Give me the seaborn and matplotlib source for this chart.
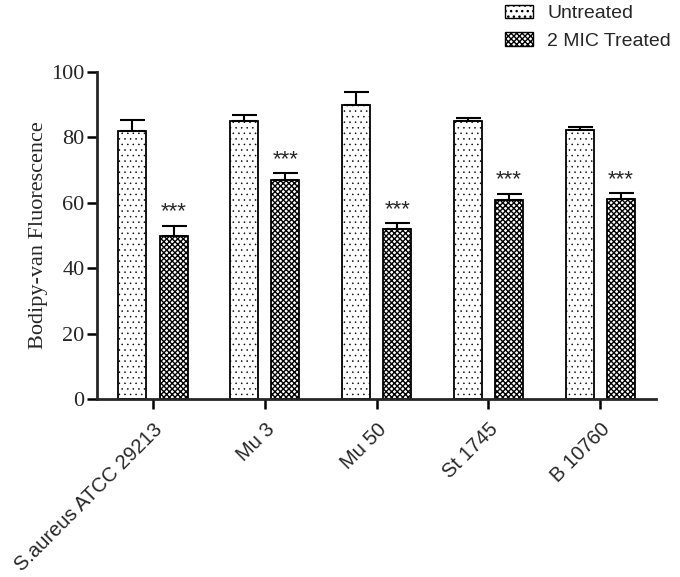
import pandas as pd
import matplotlib
matplotlib.use("Agg")
import matplotlib.pyplot as plt
from matplotlib.patches import Patch
import seaborn as sns

# Data
strains = ["S.aureus ATCC 29213", "Mu 3", "Mu 50", "St 1745", "B 10760"]
groups = ["Untreated", "2 MIC Treated"]
untreated = [82, 85, 90, 85, 82.3]
untreated_err = [3.3, 1.8, 4.0, 1.0, 1.0]
treated = [50, 67, 52, 61, 61.2]
treated_err = [3.0, 2.0, 1.8, 1.8, 1.8]
stars = ["***", "***", "***", "***", "***"]

df = pd.DataFrame({
    "Strain": strains * 2,
    "Group": [groups[0]] * len(strains) + [groups[1]] * len(strains),
    "Value": untreated + treated,
})

sns.set_style("ticks")
plt.rcParams["font.family"] = ["Liberation Sans", "DejaVu Sans"]
plt.rcParams["hatch.linewidth"] = 1.0

fig = plt.figure(figsize=(6.8, 5.77), dpi=100)
ax = fig.add_axes([0.1426, 0.3085, 0.8224, 0.5667])

sns.barplot(data=df, x="Strain", y="Value", hue="Group", hue_order=groups,
            order=strains, palette=["white", "white"], width=0.74, gap=0.32,
            errorbar=None, edgecolor="black", linewidth=1.3, ax=ax)

hatches = {groups[0]: "...", groups[1]: "xxxxxx"}
hatch_lw = {groups[0]: 0.35, groups[1]: 1.0}
for cont, g in zip(ax.containers, groups):
    for bar in cont:
        bar.set_hatch(hatches[g])
        if hasattr(bar, "set_hatch_linewidth"):
            bar.set_hatch_linewidth(hatch_lw[g])

# upper-only error bars with caps
errs = [untreated_err, treated_err]
for cont, e in zip(ax.containers, errs):
    xs = [b.get_x() + b.get_width() / 2 for b in cont]
    ys = [b.get_height() for b in cont]
    ax.errorbar(xs, ys, yerr=[[0] * len(e), e], fmt="none", ecolor="black",
                elinewidth=1.5, capsize=9, capthick=1.5, zorder=3)

# significance stars above treated bars
tc = ax.containers[1]
for b, e, s in zip(tc, treated_err, stars):
    ax.text(b.get_x() + b.get_width() / 2, b.get_height() + e + 1.0, s,
            ha="center", va="bottom", fontsize=16)

ax.set_ylim(0, 100)
ax.set_xlim(-0.5, 4.5)
ax.set_yticks([0, 20, 40, 60, 80, 100])
ax.set_yticklabels(["0", "20", "40", "60", "80", "100"],
                   family="Liberation Serif", fontsize=16)
ax.set_ylabel("Bodipy-van Fluorescence", family="Liberation Serif",
              fontsize=16, labelpad=2)
ax.set_xlabel("")
ax.set_xticks(range(len(strains)))
ax.set_xticklabels(strains, rotation=45, ha="right", rotation_mode="anchor",
                   fontsize=14.5)
ax.tick_params(axis="both", width=1.8, length=7, color="black")
ax.tick_params(axis="y", pad=2)
ax.tick_params(axis="x", pad=8)
for side in ["left", "bottom"]:
    ax.spines[side].set_linewidth(2)
sns.despine(ax=ax)

handles = [Patch(facecolor="white", edgecolor="black", hatch=hatches[g],
                 linewidth=1.0) for g in groups]
if hasattr(handles[0], "set_hatch_linewidth"):
    for h, g in zip(handles, groups):
        h.set_hatch_linewidth(hatch_lw[g])
ax.legend(handles, groups, loc="upper left", bbox_to_anchor=(0.742, 0.992),
          bbox_transform=fig.transFigure, frameon=False, fontsize=14,
          borderpad=0, borderaxespad=0,
          handlelength=1.45, handleheight=0.7, labelspacing=0.5,
          handletextpad=0.75)

fig.savefig("out.png", dpi=100)
